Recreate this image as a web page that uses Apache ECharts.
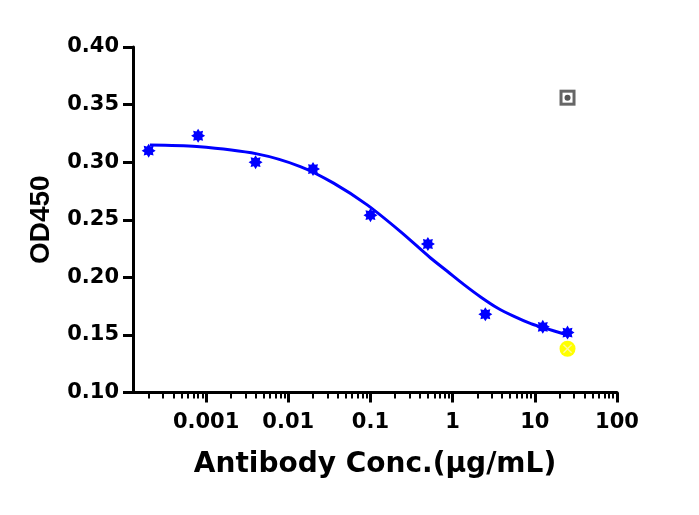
<!DOCTYPE html>
<html>
<head>
<meta charset="utf-8">
<script src="https://cdn.jsdelivr.net/npm/echarts@6/dist/echarts.min.js"></script>
<style>
  html, body { margin: 0; padding: 0; background: #fff; }
  #charts { width: 699px; height: 515px; }
</style>
</head>
<body>
<div id="charts"></div>
<script>
// measured points (conc in ug/mL, OD450)
var concX = [0.0002, 0.0008, 0.004, 0.02, 0.1, 0.5, 2.5, 12.5, 25];
var od450 = [0.310, 0.323, 0.300, 0.294, 0.254, 0.229, 0.168, 0.157, 0.152];

// fitted curve
var fitX = [0.000207, 0.00077, 0.00415, 0.014, 0.0356, 0.0912, 0.232, 0.539, 0.861, 1.374, 2.19, 3.51, 5.59, 8.94, 12.98, 25];
var fitY = [0.315, 0.3136, 0.3072, 0.2962, 0.2818, 0.2629, 0.2397, 0.2168, 0.2053, 0.1937, 0.1830, 0.1734, 0.1661, 0.1598, 0.1561, 0.1499];

// the two lone markers at the top concentration
var ctrlHigh = [[25, 0.356]];
var ctrlLow = [[25, 0.138]];

var xTickValues = [0.001, 0.01, 0.1, 1, 10, 100];
var xTickLabels = ['0.001', '0.01', '0.1', '1', '10', '100'];
var yTickLabels = ['0.10', '0.15', '0.20', '0.25', '0.30', '0.35', '0.40'];

var lg = function (v) { return Math.log10(v); };
var xMin = lg(0.000129), xMax = 2;

// minor ticks 2..9 in every decade that is in range
var minorTicks = [];
[-4, -3, -2, -1, 0, 1].forEach(function (e) {
    for (var k = 2; k <= 9; k++) {
        var v = lg(k) + e;
        if (v > xMin && v < xMax) minorTicks.push(v);
    }
});

var pairs = function (xs, ys) {
    return xs.map(function (x, i) { return [lg(x), ys[i]]; });
};
var logPairs = function (arr) {
    return arr.map(function (p) { return [lg(p[0]), p[1]]; });
};

var star = 'path://M10 0 L12.49 3.99 L17.07 2.93 L16.01 7.51 L20 10 L16.01 12.49 L17.07 17.07 L12.49 16.01 L10 20 L7.51 16.01 L2.93 17.07 L3.99 12.49 L0 10 L3.99 7.51 L2.93 2.93 L7.51 3.99 Z';
var cross = 'path://M0 2 L2 0 L10 8 L18 0 L20 2 L12 10 L20 18 L18 20 L10 12 L2 20 L0 18 L8 10 Z';

var font = 'DejaVu Sans';
var myChart = echarts.init(document.getElementById('charts'));
myChart.setOption({
    animation: false,
    grid: { left: 133, right: 82, top: 47, bottom: 122.5 },
    xAxis: [
        {
            type: 'value',
            min: xMin,
            max: xMax,
            name: 'Antibody Conc.(\u00b5g/mL)',
            nameLocation: 'middle',
            nameGap: 58,
            nameTextStyle: { fontFamily: font, fontWeight: 'bold', fontSize: 28, color: '#000' },
            axisLine: { onZero: false, lineStyle: { color: '#000', width: 3 } },
            axisTick: {
                customValues: xTickValues.map(lg),
                length: 10,
                lineStyle: { color: '#000', width: 3 }
            },
            axisLabel: {
                customValues: xTickValues.map(lg),
                formatter: function (v) {
                    var i = xTickValues.map(lg).findIndex(function (t) { return Math.abs(t - v) < 1e-6; });
                    return i >= 0 ? xTickLabels[i] : '';
                },
                margin: 20,
                fontFamily: font, fontWeight: 'bold', fontSize: 21, color: '#000'
            },
            splitLine: { show: false }
        },
        {
            type: 'value',
            min: xMin,
            max: xMax,
            position: 'bottom',
            axisLine: { show: false, onZero: false },
            axisTick: {
                customValues: minorTicks,
                length: 6,
                lineStyle: { color: '#000', width: 2 }
            },
            axisLabel: { show: false },
            splitLine: { show: false }
        }
    ],
    yAxis: {
        type: 'value',
        min: 0.10,
        max: 0.40,
        interval: 0.05,
        name: 'OD450',
        nameLocation: 'middle',
        nameGap: 78,
        nameTextStyle: { fontFamily: 'Liberation Sans', fontWeight: 'bold', fontSize: 28, color: '#000' },
        axisLine: { show: true, onZero: false, lineStyle: { color: '#000', width: 3 } },
        axisTick: { show: true, length: 10, lineStyle: { color: '#000', width: 3 } },
        axisLabel: {
            formatter: function (v) {
                var i = Math.round((v - 0.10) / 0.05);
                return yTickLabels[i] || '';
            },
            margin: 14,
            fontFamily: font, fontWeight: 'bold', fontSize: 21, color: '#000'
        },
        splitLine: { show: false }
    },
    series: [
        {
            name: 'fit',
            type: 'line',
            smooth: 0.3,
            showSymbol: false,
            data: pairs(fitX, fitY),
            lineStyle: { color: '#0000ff', width: 3 },
            z: 2
        },
        {
            name: 'OD450',
            type: 'scatter',
            symbol: star,
            symbolSize: 14,
            data: pairs(concX, od450),
            itemStyle: { color: '#0000ff', opacity: 1 },
            z: 3
        },
        {
            type: 'scatter', symbol: 'rect', symbolSize: 16,
            data: logPairs(ctrlHigh), itemStyle: { color: '#666666', opacity: 1 }, z: 3
        },
        {
            type: 'scatter', symbol: 'rect', symbolSize: 10,
            data: logPairs(ctrlHigh), itemStyle: { color: '#ffffff', opacity: 1 }, z: 4
        },
        {
            type: 'scatter', symbol: 'circle', symbolSize: 6,
            data: logPairs(ctrlHigh), itemStyle: { color: '#555555', opacity: 1 }, z: 5
        },
        {
            type: 'scatter', symbol: 'circle', symbolSize: 16,
            data: logPairs(ctrlLow), itemStyle: { color: '#ffff00', opacity: 1 }, z: 3
        },
        {
            type: 'scatter', symbol: cross, symbolSize: 9,
            data: logPairs(ctrlLow), itemStyle: { color: '#fff7a0', opacity: 1 }, z: 4
        }
    ]
});
</script>
</body>
</html>
